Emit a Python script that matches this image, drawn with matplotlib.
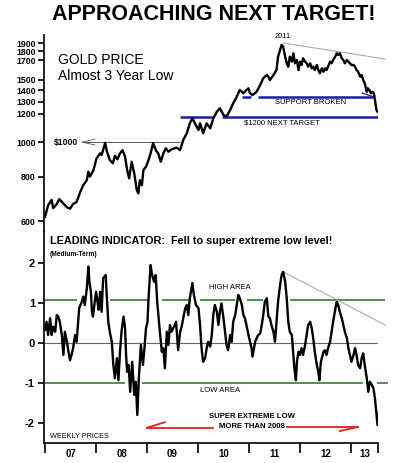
import matplotlib
matplotlib.use("Agg")
import matplotlib.pyplot as plt
from matplotlib.ticker import FixedLocator, NullLocator, NullFormatter

plt.rcParams['font.family'] = ['Liberation Sans', 'DejaVu Sans']

# weekly gold price, decimal years
gold_t = [2007.00, 2007.06, 2007.13, 2007.16, 2007.23, 2007.28, 2007.36, 2007.43, 2007.49, 2007.55,
          2007.62, 2007.69, 2007.75, 2007.82, 2007.85, 2007.88, 2007.95, 2008.01, 2008.08, 2008.11,
          2008.18, 2008.21, 2008.27, 2008.33, 2008.37, 2008.42, 2008.47, 2008.52, 2008.57, 2008.61,
          2008.65, 2008.70, 2008.75, 2008.80, 2008.83, 2008.86, 2008.90, 2008.93, 2008.98, 2009.03,
          2009.07, 2009.12, 2009.18, 2009.22, 2009.27, 2009.32, 2009.37, 2009.42, 2009.48, 2009.53,
          2009.58, 2009.65, 2009.71, 2009.78, 2009.84, 2009.89, 2009.94, 2010.01, 2010.04, 2010.10,
          2010.17, 2010.24, 2010.30, 2010.37, 2010.43, 2010.50, 2010.56, 2010.63, 2010.69, 2010.76,
          2010.82, 2010.89, 2010.95, 2010.99, 2011.02, 2011.07, 2011.15, 2011.22, 2011.28, 2011.31,
          2011.35, 2011.38, 2011.41, 2011.48, 2011.54, 2011.57, 2011.61, 2011.64, 2011.67, 2011.71,
          2011.74, 2011.77, 2011.80, 2011.84, 2011.87, 2011.90, 2011.94, 2011.97, 2012.00, 2012.03,
          2012.06, 2012.10, 2012.13, 2012.16, 2012.20, 2012.23, 2012.26, 2012.29, 2012.33, 2012.36,
          2012.39, 2012.43, 2012.46, 2012.49, 2012.52, 2012.55, 2012.59, 2012.62, 2012.65, 2012.69,
          2012.72, 2012.75, 2012.78, 2012.82, 2012.85, 2012.88, 2012.92, 2012.95, 2012.98, 2013.01,
          2013.05, 2013.08, 2013.11, 2013.14, 2013.18, 2013.21, 2013.24, 2013.27, 2013.31, 2013.33,
          2013.36, 2013.39, 2013.42, 2013.45, 2013.48, 2013.50, 2013.52]
gold = [617, 664, 688, 652, 670, 692, 672, 656, 650, 670,
        679, 724, 757, 782, 826, 800, 834, 900, 930, 920,
        996, 945, 891, 872, 915, 895, 930, 950, 910, 835,
        791, 881, 817, 733, 718, 782, 757, 835, 853, 891,
        930, 993, 945, 930, 881, 930, 961, 940, 955, 960,
        965, 950, 1014, 1059, 1130, 1167, 1130, 1082, 1130, 1059,
        1130, 1094, 1167, 1218, 1245, 1192, 1179, 1231, 1286, 1342,
        1402, 1372, 1402, 1417, 1372, 1357, 1386, 1448, 1512, 1528,
        1545, 1528, 1495, 1545, 1595, 1739, 1816, 1876, 1856, 1739,
        1666, 1630, 1739, 1684, 1778, 1666, 1702, 1595, 1684, 1648,
        1721, 1684, 1666, 1630, 1666, 1613, 1630, 1595, 1648, 1595,
        1562, 1613, 1578, 1613, 1595, 1630, 1684, 1666, 1702, 1739,
        1778, 1758, 1778, 1721, 1702, 1666, 1702, 1684, 1666, 1648,
        1648, 1630, 1595, 1578, 1528, 1545, 1495, 1464, 1386, 1417,
        1402, 1372, 1386, 1372, 1286, 1231, 1218]

# leading indicator (medium-term)
ind_t = [2007.00, 2007.03, 2007.06, 2007.10, 2007.13, 2007.16, 2007.20, 2007.23, 2007.26, 2007.29,
         2007.33, 2007.36, 2007.39, 2007.43, 2007.46, 2007.49, 2007.52, 2007.55, 2007.59, 2007.62,
         2007.65, 2007.67, 2007.72, 2007.75, 2007.78, 2007.82, 2007.85, 2007.87, 2007.90, 2007.92,
         2007.94, 2007.96, 2008.00, 2008.03, 2008.05, 2008.08, 2008.11, 2008.14, 2008.19, 2008.21,
         2008.24, 2008.27, 2008.31, 2008.34, 2008.37, 2008.41, 2008.44, 2008.47, 2008.50, 2008.54,
         2008.57, 2008.59, 2008.61, 2008.64, 2008.67, 2008.71, 2008.75, 2008.78, 2008.81, 2008.84,
         2008.88, 2008.92, 2008.95, 2008.98, 2009.01, 2009.03, 2009.07, 2009.10, 2009.14, 2009.17,
         2009.20, 2009.24, 2009.29, 2009.32, 2009.35, 2009.39, 2009.42, 2009.45, 2009.48, 2009.53,
         2009.57, 2009.61, 2009.65, 2009.68, 2009.71, 2009.75, 2009.78, 2009.81, 2009.84, 2009.89,
         2009.92, 2009.96, 2010.01, 2010.04, 2010.07, 2010.10, 2010.14, 2010.17, 2010.20, 2010.24,
         2010.27, 2010.30, 2010.33, 2010.37, 2010.40, 2010.43, 2010.46, 2010.50, 2010.53, 2010.56,
         2010.59, 2010.63, 2010.66, 2010.69, 2010.73, 2010.76, 2010.79, 2010.82, 2010.86, 2010.89,
         2010.92, 2010.95, 2010.99, 2011.02, 2011.05, 2011.07, 2011.12, 2011.15, 2011.18, 2011.22,
         2011.25, 2011.28, 2011.31, 2011.35, 2011.38, 2011.41, 2011.44, 2011.48, 2011.51, 2011.54,
         2011.57, 2011.61, 2011.64, 2011.67, 2011.71, 2011.74, 2011.77, 2011.80, 2011.84, 2011.87,
         2011.89, 2011.92, 2011.94, 2011.97, 2012.00, 2012.03, 2012.06, 2012.10, 2012.13, 2012.16,
         2012.20, 2012.23, 2012.26, 2012.29, 2012.33, 2012.36, 2012.38, 2012.41, 2012.46, 2012.49,
         2012.52, 2012.55, 2012.59, 2012.62, 2012.65, 2012.69, 2012.72, 2012.75, 2012.78, 2012.82,
         2012.85, 2012.88, 2012.92, 2012.95, 2012.98, 2013.01, 2013.05, 2013.08, 2013.11, 2013.14,
         2013.18, 2013.21, 2013.24, 2013.27, 2013.31, 2013.34, 2013.37, 2013.41, 2013.44, 2013.47,
         2013.50, 2013.52, 2013.55]
ind = [0.33, 0.53, 0.20, 0.62, 0.20, 0.41, 0.28, 0.70, 0.66, 0.53,
       0.20, -0.30, 0.28, 0.03, -0.22, -0.43, -0.30, -0.13, 0.20, 0.03,
       0.53, 0.87, 1.03, 1.16, 0.95, 1.37, 1.91, 1.53, 1.28, 0.78,
       0.66, 0.87, 1.28, 1.03, 0.83, 1.28, 0.78, 1.62, 1.70, 1.20,
       0.53, 0.28, 0.03, -0.55, -0.88, -0.38, -0.93, -0.22, 0.28, 0.66,
       0.37, -0.30, -0.72, -0.55, -1.22, -0.47, -1.30, -0.97, -1.80, -0.88,
       -0.05, -0.55, -0.13, 0.37, 0.53, 1.12, 1.95, 1.70, 1.53, 1.70,
       1.03, 0.45, -0.22, -0.13, -0.63, 0.28, -0.05, 0.45, 0.28, 0.41,
       0.53, -0.18, 0.28, 0.41, 0.62, 0.87, 0.95, 0.70, 1.12, 1.50,
       1.20, 0.95, 0.87, 0.45, -0.13, -0.47, -0.38, -0.13, 0.03, -0.09,
       0.20, 0.70, 0.95, 0.78, 0.45, 0.78, 0.99, 0.62, 0.28, -0.05,
       -0.18, 0.20, 0.03, 0.53, 0.70, 0.95, 1.20, 1.12, 0.95, 0.70,
       0.62, 0.45, 0.20, 0.03, -0.13, -0.34, 0.03, 0.12, 0.20, 0.24,
       0.45, 0.70, 1.03, 1.12, 0.66, 0.62, 0.45, 0.28, 0.03, 0.53,
       1.03, 1.45, 1.70, 1.78, 1.53, 1.12, 0.53, 0.28, 0.20, -0.30,
       -0.63, -0.93, -0.47, -0.22, -0.30, -0.13, -0.30, -0.05, 0.20, 0.45,
       0.53, 0.37, 0.12, -0.22, -0.55, -0.72, -0.93, -0.47, -0.22, -0.18,
       -0.30, -0.13, 0.03, 0.28, 0.53, 0.83, 1.03, 0.95, 0.78, 0.62,
       0.45, 0.28, 0.12, -0.13, -0.30, -0.47, -0.30, -0.13, -0.30, -0.55,
       -0.63, -0.38, -0.26, -0.55, -0.88, -1.22, -0.97, -1.05, -1.13, -1.38,
       -1.80, -2.05, -1.72]

gold_ticks = [600, 800, 1000, 1200, 1300, 1400, 1500, 1700, 1800, 1900]
ind_ticks = [-2, -1, 0, 1, 2]
years = ['07', '08', '09', '10', '11', '12', '13']
year_mid = [2007.5, 2008.5, 2009.5, 2010.5, 2011.5, 2012.5, 2013.27]
year_edges = [2007, 2008, 2009, 2010, 2011, 2012, 2013, 2013.53]

high_area = 1.08
low_area = -1.0
support = 1343
target = 1180

W, H = 393, 463
fig = plt.figure(figsize=(W / 100, H / 100), dpi=100)
ax1 = fig.add_axes([44 / W, 1 - 232 / H, 334 / W, 197 / H])
ax2 = fig.add_axes([44 / W, 1 - 443 / H, 334 / W, 211 / H])

xlim = (2006.98, 2013.53)
blue = '#1c1ca8'
green = '#3f8a3f'

# ---- gold price ----
ax1.set_yscale('log')
ax1.plot(gold_t, gold, color='black', lw=1.7, zorder=5)
ax1.set_xlim(xlim)
ax1.set_ylim(559, 2001)
ax1.yaxis.set_major_locator(FixedLocator(gold_ticks))
ax1.yaxis.set_minor_locator(NullLocator())
ax1.yaxis.set_minor_formatter(NullFormatter())
ax1.set_yticklabels([str(v) for v in gold_ticks], fontsize=6.3, fontweight='bold')
ax1.set_xticks([])
for s in ['top', 'right', 'bottom']:
    ax1.spines[s].set_visible(False)
ax1.spines['left'].set_linewidth(1.2)
ax1.tick_params(axis='y', length=4.5, width=1.2, pad=1.5)

ax1.hlines(1000, 2007.73, 2009.65, color='#555555', lw=0.7)
ax1.plot([2007.73, 2007.98], [1000, 1020], color='#555555', lw=0.6)
ax1.plot([2007.73, 2007.98], [1000, 982], color='#555555', lw=0.6)
ax1.text(2007.41, 1000, '$1000', fontsize=6.2, fontweight='bold', ha='center', va='center')

ax1.hlines([target, target], [2009.65, 2010.47], [2010.31, 2013.53], color=blue, lw=1.8)
ax1.hlines([support, support], [2010.86, 2011.18], [2011.04, 2013.43], color=blue, lw=1.8)
ax1.plot([2013.22, 2013.43], [1374, 1343], color=blue, lw=0.9)
ax1.text(2012.20, 1289, 'SUPPORT BROKEN', fontsize=5.5, ha='center', va='center')
ax1.text(2011.65, 1132, '$1200 NEXT TARGET', fontsize=5.5, ha='center', va='center')

ax1.plot([2011.67, 2013.67], [1900, 1713], color='#aaaaaa', lw=0.8, clip_on=False)
ax1.text(2011.67, 1976, '2011', fontsize=5.5, ha='center', va='center')

# ---- leading indicator ----
ax2.plot(ind_t, ind, color='black', lw=1.7, zorder=5)
ax2.set_xlim(xlim)
ax2.set_ylim(-2.5, 2.775)
ax2.set_yticks(ind_ticks)
ax2.set_yticklabels([str(v) for v in ind_ticks], fontsize=8, fontweight='bold')
ax2.spines['top'].set_visible(False)
ax2.spines['right'].set_visible(False)
ax2.spines['left'].set_linewidth(1.2)
ax2.spines['bottom'].set_linewidth(1.2)
ax2.tick_params(axis='y', length=4.5, width=1.2, pad=2)
ax2.set_xticks(year_mid)
ax2.set_xticklabels(years, fontsize=7, fontweight='bold')
ax2.set_xticks(year_edges, minor=True)
ax2.tick_params(axis='x', which='major', length=0, pad=4)
ax2.tick_params(axis='x', which='minor', length=7, width=1.2)

ax2.axhline(0, color='#666666', lw=0.8, xmax=1.0)
ax2.hlines([high_area] * 6,
           [2007.00, 2008.27, 2009.29, 2010.04, 2010.96, 2011.80],
           [2007.63, 2009.02, 2009.82, 2010.73, 2011.27, 2013.67],
           color=green, lw=1.3, clip_on=False)
ax2.hlines([low_area] * 3,
           [2007.00, 2008.90, 2013.51],
           [2008.57, 2013.24, 2013.73],
           color=green, lw=1.3, clip_on=False)
ax2.plot([2011.67, 2013.67], [1.78, 0.45], color='#aaaaaa', lw=0.8, clip_on=False)
ax2.text(2010.63, 1.38, 'HIGH AREA', fontsize=5.5, ha='center', va='center')
ax2.text(2010.43, -1.2, 'LOW AREA', fontsize=5.5, ha='center', va='center')
ax2.text(2007.09, -2.33, 'WEEKLY PRICES', fontsize=5.2, ha='left', va='center')

red = '#e02020'
ax2.plot([2009.0, 2010.29], [-2.12, -2.12], color=red, lw=1.3)
ax2.plot([2009.0, 2009.35], [-2.12, -1.98], color=red, lw=1.3)
ax2.plot([2011.75, 2013.14], [-2.10, -2.10], color=red, lw=1.3)
ax2.plot([2013.14, 2012.78], [-2.10, -2.20], color=red, lw=1.3)
ax2.text(2011.06, -1.83, 'SUPER EXTREME LOW', fontsize=5.6, fontweight='bold', ha='center', va='center')
ax2.text(2011.06, -2.10, 'MORE THAN 2008', fontsize=5.6, fontweight='bold', ha='center', va='center')

# ---- titles ----
fig.text(214 / W, 1 - 14 / H, 'APPROACHING NEXT TARGET!', fontsize=15.5, fontweight='bold',
         ha='center', va='center')
fig.text(58 / W, 1 - 60 / H, 'GOLD PRICE', fontsize=10, ha='left', va='center')
fig.text(58 / W, 1 - 76 / H, 'Almost 3 Year Low', fontsize=10, ha='left', va='center')
fig.text(50 / W, 1 - 241 / H, 'LEADING INDICATOR:  Fell to super extreme low level!', fontsize=7.8,
         fontweight='bold', ha='left', va='center')
fig.text(50 / W, 1 - 254 / H, '(Medium-Term)', fontsize=4.8, fontweight='bold', ha='left', va='center')

fig.savefig('out.png', dpi=100)
